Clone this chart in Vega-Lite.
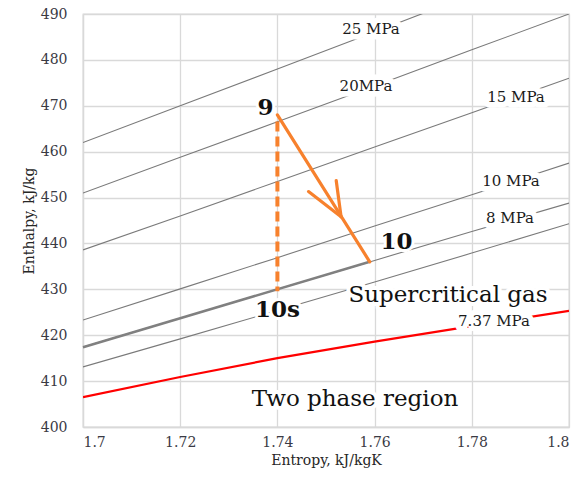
{
  "$schema": "https://vega.github.io/schema/vega-lite/v6.json",
  "width": 486,
  "height": 413,
  "autosize": {"type": "none"},
  "padding": {"left": 83, "top": 14, "right": 12, "bottom": 54},
  "background": "white",
  "config": {
    "view": {"stroke": "#d9d9d9", "strokeWidth": 1.3},
    "axis": {
      "grid": true,
      "gridColor": "#d9d9d9",
      "gridWidth": 1.3,
      "domainColor": "#d9d9d9",
      "domainWidth": 1.3,
      "ticks": false,
      "labelFont": "DejaVu Serif",
      "labelFontSize": 14,
      "labelColor": "#3a3a44",
      "titleFont": "DejaVu Serif",
      "titleFontSize": 14,
      "titleFontWeight": "normal",
      "titleColor": "#262626"
    }
  },
  "datasets": {
    "isobars": [
      {"p": "25 MPa", "s": 1.70, "h": 462.0},
      {"p": "25 MPa", "s": 1.72, "h": 470.0},
      {"p": "25 MPa", "s": 1.74, "h": 478.0},
      {"p": "25 MPa", "s": 1.76, "h": 486.1},
      {"p": "25 MPa", "s": 1.78, "h": 494.2},
      {"p": "20 MPa", "s": 1.70, "h": 451.0},
      {"p": "20 MPa", "s": 1.72, "h": 458.8},
      {"p": "20 MPa", "s": 1.74, "h": 466.5},
      {"p": "20 MPa", "s": 1.76, "h": 474.3},
      {"p": "20 MPa", "s": 1.78, "h": 482.2},
      {"p": "20 MPa", "s": 1.80, "h": 490.0},
      {"p": "15 MPa", "s": 1.70, "h": 438.6},
      {"p": "15 MPa", "s": 1.72, "h": 446.0},
      {"p": "15 MPa", "s": 1.74, "h": 453.5},
      {"p": "15 MPa", "s": 1.76, "h": 461.0},
      {"p": "15 MPa", "s": 1.78, "h": 468.5},
      {"p": "15 MPa", "s": 1.80, "h": 476.0},
      {"p": "10 MPa", "s": 1.70, "h": 423.3},
      {"p": "10 MPa", "s": 1.72, "h": 430.1},
      {"p": "10 MPa", "s": 1.74, "h": 436.9},
      {"p": "10 MPa", "s": 1.76, "h": 443.8},
      {"p": "10 MPa", "s": 1.78, "h": 450.6},
      {"p": "10 MPa", "s": 1.80, "h": 457.5},
      {"p": "8 MPa", "s": 1.70, "h": 417.4},
      {"p": "8 MPa", "s": 1.72, "h": 423.7},
      {"p": "8 MPa", "s": 1.74, "h": 430.0},
      {"p": "8 MPa", "s": 1.76, "h": 436.3},
      {"p": "8 MPa", "s": 1.78, "h": 442.6},
      {"p": "8 MPa", "s": 1.80, "h": 448.8},
      {"p": "7.5 MPa", "s": 1.70, "h": 413.1},
      {"p": "7.5 MPa", "s": 1.72, "h": 419.2},
      {"p": "7.5 MPa", "s": 1.74, "h": 425.4},
      {"p": "7.5 MPa", "s": 1.76, "h": 431.6},
      {"p": "7.5 MPa", "s": 1.78, "h": 437.9},
      {"p": "7.5 MPa", "s": 1.80, "h": 444.3}
    ],
    "critical": [
      {"p": "7.37 MPa", "s": 1.70, "h": 406.5},
      {"p": "7.37 MPa", "s": 1.72, "h": 410.9},
      {"p": "7.37 MPa", "s": 1.74, "h": 415.0},
      {"p": "7.37 MPa", "s": 1.76, "h": 418.6},
      {"p": "7.37 MPa", "s": 1.78, "h": 422.0},
      {"p": "7.37 MPa", "s": 1.80, "h": 425.3}
    ],
    "outletIsobar": [
      {"s": 1.700, "h": 417.4},
      {"s": 1.759, "h": 436.0}
    ],
    "isentropic": [
      {"state": "9", "s": 1.74, "h": 466.6},
      {"state": "10s", "s": 1.74, "h": 429.6}
    ],
    "expansion": [
      {"seg": "9-10", "s": 1.7400, "h": 468.0},
      {"seg": "9-10", "s": 1.7590, "h": 436.0},
      {"seg": "head-left", "s": 1.7464, "h": 451.3},
      {"seg": "head-left", "s": 1.7531, "h": 445.8},
      {"seg": "head-right", "s": 1.7521, "h": 453.7},
      {"seg": "head-right", "s": 1.7531, "h": 445.8}
    ],
    "isobarLabels": [
      {"text": "25 MPa", "s": 1.75926, "h": 486.8},
      {"text": "20MPa", "s": 1.75823, "h": 474.3},
      {"text": "15 MPa", "s": 1.78909, "h": 471.9},
      {"text": "10 MPa", "s": 1.78807, "h": 453.6},
      {"text": "8 MPa", "s": 1.78786, "h": 445.6},
      {"text": "7.37  MPa", "s": 1.78457, "h": 423.2}
    ],
    "regionLabels": [
      {"text": "Supercritical gas", "s": 1.7751, "h": 428.8},
      {"text": "Two phase region", "s": 1.75597, "h": 406.0}
    ],
    "stateLabels": [
      {"text": "9", "s": 1.73755, "h": 469.6},
      {"text": "10", "s": 1.76451, "h": 440.4},
      {"text": "10s", "s": 1.74002, "h": 425.5}
    ]
  },
  "encoding": {
    "x": {
      "field": "s",
      "type": "quantitative",
      "scale": {"domain": [1.7, 1.8], "nice": false, "zero": false},
      "axis": {
        "title": "Entropy, kJ/kgK",
        "values": [1.7, 1.72, 1.74, 1.76, 1.78, 1.8],
        "format": "~g",
        "labelPadding": 8,
        "titlePadding": 4
      }
    },
    "y": {
      "field": "h",
      "type": "quantitative",
      "scale": {"domain": [400, 490], "nice": false, "zero": false},
      "axis": {
        "title": "Enthalpy, kJ/kg",
        "values": [400, 410, 420, 430, 440, 450, 460, 470, 480, 490],
        "labelPadding": 16,
        "titlePadding": 4
      }
    }
  },
  "layer": [
    {
      "data": {"name": "isobars"},
      "mark": {"type": "line", "color": "#7a7a7a", "strokeWidth": 1.1, "clip": true},
      "encoding": {"detail": {"field": "p"}}
    },
    {
      "data": {"name": "critical"},
      "mark": {"type": "line", "color": "#ff0000", "strokeWidth": 2.2, "clip": true},
      "encoding": {}
    },
    {
      "data": {"name": "outletIsobar"},
      "mark": {"type": "line", "color": "#808080", "strokeWidth": 2.6},
      "encoding": {}
    },
    {
      "data": {"name": "isentropic"},
      "mark": {"type": "line", "color": "#f7812d", "strokeWidth": 4, "strokeDash": [10, 5]},
      "encoding": {"order": {"field": "h", "sort": "descending"}}
    },
    {
      "data": {"name": "expansion"},
      "mark": {"type": "line", "color": "#f7812d", "strokeWidth": 3.2, "strokeCap": "round"},
      "encoding": {"detail": {"field": "seg"}, "order": {"field": "h", "sort": "descending"}}
    },
    {
      "data": {"name": "isobarLabels"},
      "mark": {"type": "text", "font": "DejaVu Serif", "fontSize": 15, "baseline": "middle", "align": "center", "color": "white", "stroke": "white", "strokeWidth": 11, "strokeJoin": "round"},
      "encoding": {"text": {"field": "text"}}
    },
    {
      "data": {"name": "isobarLabels"},
      "mark": {"type": "text", "font": "DejaVu Serif", "fontSize": 15, "baseline": "middle", "align": "center", "color": "#1a1a1a"},
      "encoding": {"text": {"field": "text"}}
    },
    {
      "data": {"name": "regionLabels"},
      "mark": {"type": "text", "font": "DejaVu Serif", "fontSize": 23, "baseline": "middle", "align": "center", "color": "white", "stroke": "white", "strokeWidth": 8, "strokeJoin": "round"},
      "encoding": {"text": {"field": "text"}}
    },
    {
      "data": {"name": "regionLabels"},
      "mark": {"type": "text", "font": "DejaVu Serif", "fontSize": 23, "baseline": "middle", "align": "center", "color": "#111111"},
      "encoding": {"text": {"field": "text"}}
    },
    {
      "data": {"name": "stateLabels"},
      "mark": {"type": "text", "font": "DejaVu Serif", "fontSize": 23, "fontWeight": "bold", "baseline": "middle", "align": "center", "color": "white", "stroke": "white", "strokeWidth": 6, "strokeJoin": "round"},
      "encoding": {"text": {"field": "text"}}
    },
    {
      "data": {"name": "stateLabels"},
      "mark": {"type": "text", "font": "DejaVu Serif", "fontSize": 23, "fontWeight": "bold", "baseline": "middle", "align": "center", "color": "#111111"},
      "encoding": {"text": {"field": "text"}}
    }
  ]
}
